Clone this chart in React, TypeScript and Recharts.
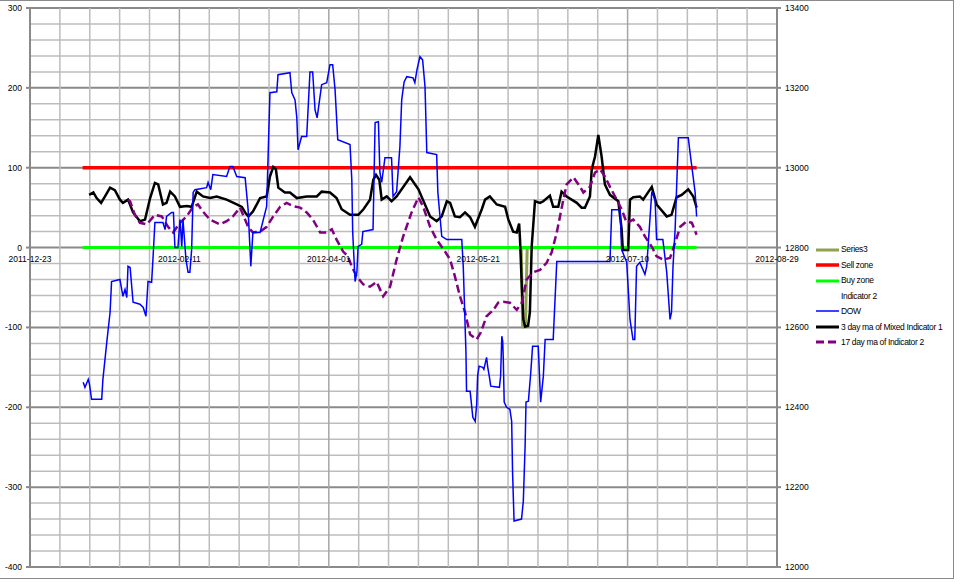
import React from 'react';
import { ComposedChart, Line, XAxis, YAxis, CartesianGrid, Legend } from 'recharts';

// ---------- data ----------
const xLabelDays = [0, 50, 100, 150, 200, 250];
const xLabels = ['2011-12-23', '2012-02-11', '2012-04-01', '2012-05-21', '2012-07-10', '2012-08-29'];
const xGridDays = [0, 10, 20, 30, 40, 50, 60, 70, 80, 90, 100, 110, 120, 130, 140, 150, 160, 170, 180, 190, 200, 210, 220, 230, 240, 250];
const leftTicks = [-400, -380, -360, -340, -320, -300, -280, -260, -240, -220, -200, -180, -160, -140, -120, -100, -80, -60, -40, -20, 0, 20, 40, 60, 80, 100, 120, 140, 160, 180, 200, 220, 240, 260, 280, 300];
const leftLabelTicks = [-400, -300, -200, -100, 0, 100, 200, 300];
const rightTicks = [12000, 12200, 12400, 12600, 12800, 13000, 13200, 13400];

const legendNames = ['Series3', 'Sell zone', 'Buy zone', 'Indicator 2', 'DOW', '3 day ma of Mixed Indicator 1', '17 day ma of Indicator 2'];

const series3Points: number[][] = [[164.4, 0], [164.9, -99], [165.8, -99], [166.4, 0]];
const sellZonePoints: number[][] = [[17.6, 100], [223.1, 100]];
const buyZonePoints: number[][] = [[17.6, 0], [223.1, 0]];

const dowPoints: number[][] = [
  [17.8, 12463], [18.4, 12450], [19.5, 12470], [19.9, 12458], [20.6, 12420], [24.0, 12420], [24.4, 12470], [25.7, 12563], [26.8, 12638], [27.3, 12715],
  [30.1, 12720], [31.1, 12678], [31.8, 12695], [32.4, 12675], [32.8, 12753], [33.5, 12750], [34.5, 12663], [36.8, 12658], [37.9, 12650], [38.8, 12628],
  [39.5, 12715], [40.7, 12713], [41.2, 12778], [41.8, 12863], [44.5, 12863], [45.2, 12845], [45.7, 12878], [47.4, 12888], [48.0, 12888], [48.5, 12800],
  [49.5, 12800], [50.2, 12870], [50.8, 12803], [51.2, 12870], [52.2, 12770], [52.9, 12738], [53.5, 12738], [54.1, 12795], [54.6, 12938], [55.2, 12945],
  [59.1, 12950], [59.6, 12963], [60.5, 12945], [61.2, 12983], [65.8, 12978], [66.9, 13003], [67.9, 13003], [69.2, 12978], [72.0, 12975], [73.0, 12895],
  [73.9, 12753], [74.6, 12838], [77.0, 12838], [79.2, 12903], [80.3, 13188], [82.6, 13190], [83.0, 13233], [87.0, 13238], [87.6, 13188], [88.7, 13170],
  [89.3, 13125], [89.7, 13045], [90.9, 13078], [92.6, 13078], [93.7, 13240], [94.6, 13240], [95.4, 13145], [96.1, 13125], [97.6, 13208], [99.3, 13213],
  [100.4, 13258], [101.3, 13258], [102.1, 13195], [103.0, 13070], [107.1, 13058], [107.7, 12970], [108.0, 12838], [108.8, 12715], [109.4, 12738], [109.8, 12803],
  [111.0, 12808], [111.4, 12840], [114.8, 12845], [115.5, 13113], [116.6, 13115], [117.1, 12988], [117.7, 12963], [118.8, 13025], [121.0, 13025], [121.5, 12928],
  [122.7, 12940], [123.8, 13053], [124.4, 13170], [125.2, 13215], [126.1, 13228], [128.2, 13225], [128.8, 13213], [129.5, 13245], [130.5, 13278], [131.4, 13270],
  [132.2, 13203], [132.8, 13038], [136.1, 13033], [136.5, 12938], [137.8, 12828], [139.5, 12820], [144.5, 12820], [145.0, 12753], [145.9, 12538], [146.1, 12440],
  [147.3, 12440], [148.2, 12375], [149.0, 12365], [149.5, 12408], [149.8, 12478], [150.3, 12503], [151.5, 12500], [151.9, 12495], [152.8, 12525], [153.2, 12500],
  [153.7, 12478], [154.2, 12453], [157.1, 12450], [157.5, 12478], [157.9, 12578], [158.2, 12565], [158.4, 12520], [158.7, 12413], [159.5, 12400], [160.6, 12395],
  [161.2, 12365], [161.5, 12238], [162.0, 12115], [164.5, 12120], [165.1, 12165], [165.7, 12303], [166.0, 12413], [166.8, 12415], [167.6, 12488], [168.2, 12553],
  [170.1, 12553], [170.9, 12413], [171.8, 12478], [172.4, 12570], [175.1, 12570], [176.3, 12765], [194.1, 12765], [194.7, 12895], [197.5, 12895], [198.0, 12795],
  [199.7, 12763], [200.8, 12620], [201.8, 12570], [202.4, 12570], [203.0, 12753], [204.1, 12763], [205.8, 12733], [206.4, 12753], [208.1, 12940], [209.2, 12920],
  [209.7, 12820], [211.8, 12820], [213.1, 12738], [214.2, 12620], [214.7, 12638], [215.2, 12753], [215.9, 12845], [217.0, 13075], [220.3, 13075], [220.9, 13038],
  [222.6, 12938], [223.1, 12878],
];

const mixedMa3Points: number[][] = [
  [19.8, 66], [21.2, 69], [22.3, 62], [23.8, 56], [25.1, 64], [26.8, 75], [28.4, 72], [30.1, 60], [31.1, 56], [32.8, 60],
  [34.5, 44], [36.8, 33], [38.5, 35], [40.2, 62], [41.8, 81], [42.9, 79], [44.5, 54], [45.7, 56], [46.9, 70], [48.5, 64],
  [50.2, 51], [52.4, 52], [54.1, 51], [55.8, 70], [57.9, 64], [60.2, 62], [62.5, 64], [65.8, 60], [69.2, 54], [70.9, 51],
  [72.0, 44], [73.1, 39], [74.6, 45], [77.0, 62], [79.2, 64], [80.3, 89], [81.4, 101], [82.3, 98], [83.1, 75], [85.3, 69],
  [87.0, 69], [89.3, 62], [92.6, 64], [96.0, 64], [97.6, 70], [100.4, 69], [102.6, 62], [104.3, 48], [107.1, 41], [109.9, 41],
  [111.6, 48], [113.8, 60], [114.9, 85], [115.8, 91], [116.9, 85], [117.7, 60], [119.4, 64], [121.0, 58], [122.7, 64], [127.2, 88],
  [130.0, 73], [133.9, 39], [136.1, 33], [137.8, 39], [139.5, 58], [140.6, 56], [142.2, 39], [143.9, 38], [145.6, 44], [147.3, 38],
  [148.9, 26], [151.2, 48], [152.3, 60], [153.9, 64], [156.2, 54], [159.0, 51], [160.1, 35], [161.7, 20], [162.9, 19], [163.7, 30],
  [164.0, 10], [164.6, -49], [165.1, -90], [165.7, -99], [166.7, -98], [167.3, -81], [167.9, 1], [169.0, 58], [170.7, 56], [171.8, 58],
  [174.0, 65], [175.1, 51], [176.8, 51], [177.9, 70], [179.6, 64], [183.0, 56], [184.6, 50], [185.7, 50], [187.4, 64], [188.0, 98],
  [189.1, 114], [190.2, 141], [191.3, 114], [192.4, 79], [194.1, 66], [196.9, 58], [198.0, 23], [198.4, -3], [200.2, -3], [200.8, 60],
  [201.9, 63], [204.1, 64], [205.2, 60], [208.1, 76], [209.7, 54], [213.1, 39], [214.7, 41], [216.4, 63], [218.1, 66], [220.3, 73],
  [222.0, 64], [223.1, 50],
];

const ind2Ma17Points: number[][] = [
  [32.8, 60], [33.5, 58], [35.1, 41], [36.8, 31], [39.1, 29], [41.8, 41], [44.1, 39], [46.2, 26], [47.9, 19], [50.2, 31],
  [52.4, 39], [54.6, 51], [56.2, 54], [57.9, 45], [60.2, 35], [63.6, 29], [65.8, 33], [67.9, 39], [70.3, 50], [73.1, 25],
  [74.6, 19], [77.0, 20], [79.2, 26], [81.4, 39], [83.7, 51], [85.9, 56], [88.0, 52], [90.4, 50], [92.6, 44], [94.7, 35],
  [97.1, 19], [99.3, 19], [101.0, 23], [102.6, 10], [104.8, -5], [106.4, -11], [107.7, -24], [109.3, -36], [111.5, -46], [113.8, -49],
  [116.0, -43], [118.2, -61], [120.5, -49], [122.7, -15], [124.9, 14], [127.7, 44], [130.0, 63], [131.6, 51], [133.9, 26], [136.1, 10],
  [138.9, -5], [140.6, -15], [142.2, -36], [143.9, -61], [145.6, -81], [147.3, -109], [149.5, -115], [150.9, -106], [152.8, -86], [155.1, -78],
  [156.7, -69], [158.4, -68], [160.6, -69], [162.9, -78], [164.6, -69], [166.2, -40], [168.4, -31], [170.7, -28], [172.9, -19], [174.6, -6],
  [176.3, 19], [178.5, 60], [179.6, 79], [181.9, 88], [184.1, 76], [185.2, 69], [187.4, 76], [189.1, 94], [190.8, 98], [192.4, 89],
  [194.1, 76], [195.8, 64], [198.0, 48], [199.7, 31], [201.9, 35], [204.1, 26], [205.8, 14], [208.1, 1], [209.7, -11], [211.9, -15],
  [214.2, -13], [215.9, 6], [217.6, 26], [219.8, 33], [221.5, 31], [223.1, 16],
];

// ---------- helpers ----------
const toRows = (pts: number[][]) => pts.map(([d, v]) => ({ d, v }));

const FONT = '"Liberation Sans", Arial, sans-serif';
const FS = 8.5;
const W = 960;
const H = 584;
const MARGIN = { top: 8, right: 143, bottom: 0, left: 0 };
const LEFT_W = 30;
const RIGHT_W = 40;
const XAXIS_H = 17;
const PLOT_H = H - MARGIN.top - MARGIN.bottom - XAXIS_H;
const Y_MIN = leftTicks[0];
const Y_MAX = leftTicks[leftTicks.length - 1];

const COLORS = {
  series3: '#8ea24f',
  sell: '#ff0000',
  buy: '#00ff00',
  dow: '#0000ff',
  ma3: '#000000',
  ma17: '#800080',
};

const LeftTick = (props: any) => {
  const { x, y, payload } = props;
  if (!leftLabelTicks.includes(payload.value)) return <g />;
  return (
    <g>
      <line x1={x - 4} x2={x} y1={y} y2={y} stroke="#8a8a8a" strokeWidth={2} />
      <text x={x - 8} y={y} dy={3} textAnchor="end" fontSize={FS} fontFamily={FONT} fill="#000">
        {payload.value}
      </text>
    </g>
  );
};

const RightTick = (props: any) => {
  const { x, y, payload } = props;
  return (
    <g>
      <line x1={x} x2={x + 4} y1={y} y2={y} stroke="#8a8a8a" strokeWidth={2} />
      <text x={x + 8} y={y} dy={3} textAnchor="start" fontSize={FS} fontFamily={FONT} fill="#000">
        {payload.value}
      </text>
    </g>
  );
};

const XTick = (props: any) => {
  const { x, y, payload } = props;
  const idx = xLabelDays.indexOf(payload.value);
  if (idx < 0) return <g />;
  // place labels just below the zero line (the category axis crosses at 0)
  const zeroY = y - (PLOT_H * (0 - Y_MIN)) / (Y_MAX - Y_MIN);
  return (
    <text x={x} y={zeroY} dy={14} textAnchor="middle" fontSize={FS} fontFamily={FONT} fill="#000">
      {xLabels[idx]}
    </text>
  );
};

const hLine = (p: any) => {
  const v = Y_MAX - ((p.y1 - p.y) / p.height) * (Y_MAX - Y_MIN);
  const major = Math.abs(v / 100 - Math.round(v / 100)) < 0.02;
  return (
    <line
      key={p.key}
      x1={p.x1}
      x2={p.x2}
      y1={p.y1}
      y2={p.y2}
      stroke={major ? '#8a8a8a' : '#bdbdbd'}
      strokeWidth={major ? 2 : 1.5}
    />
  );
};

const vLine = (p: any) => {
  const d = ((p.x1 - p.x) / p.width) * 250;
  const major = Math.abs(d / 50 - Math.round(d / 50)) < 0.02;
  return (
    <line
      key={p.key}
      x1={p.x1}
      x2={p.x2}
      y1={p.y1}
      y2={p.y2}
      stroke={major ? '#a6a6a6' : '#bdbdbd'}
      strokeWidth={1.5}
    />
  );
};

const legendStyles = [
  { color: COLORS.series3, width: 3, dash: undefined },
  { color: COLORS.sell, width: 3.5, dash: undefined },
  { color: COLORS.buy, width: 3, dash: undefined },
  { color: 'none', width: 0, dash: undefined },
  { color: COLORS.dow, width: 1.5, dash: undefined },
  { color: COLORS.ma3, width: 3, dash: undefined },
  { color: COLORS.ma17, width: 3, dash: '8 4' },
];

const LegendContent = () => (
  <div style={{ fontFamily: FONT, fontSize: FS, color: '#000', letterSpacing: -0.35 }}>
    {legendNames.map((name, i) => {
      const s = legendStyles[i];
      return (
        <div key={name} style={{ display: 'flex', alignItems: 'center', height: 15.45, whiteSpace: 'nowrap' }}>
          <svg width={23} height={8} style={{ display: 'block', marginRight: 2 }}>
            {s.color !== 'none' && (
              <line x1={0} x2={23} y1={4} y2={4} stroke={s.color} strokeWidth={s.width} strokeDasharray={s.dash} />
            )}
          </svg>
          <span style={{ lineHeight: 1 }}>{name}</span>
        </div>
      );
    })}
  </div>
);

export default function App() {
  return (
    <div style={{ position: 'absolute', left: 0, top: 0, width: W, height: H, background: '#fff' }}>
      <ComposedChart width={W} height={H} margin={MARGIN}>
        <CartesianGrid xAxisId="x" yAxisId="left" horizontal={hLine} vertical={vLine} />
        <XAxis
          xAxisId="x"
          dataKey="d"
          type="number"
          domain={[0, 250]}
          ticks={xGridDays}
          interval={0}
          height={XAXIS_H}
          tickSize={0}
          tickMargin={0}
          tickLine={false}
          axisLine={false}
          tick={<XTick />}
        />
        <YAxis
          yAxisId="left"
          type="number"
          domain={[Y_MIN, Y_MAX]}
          ticks={leftTicks}
          interval={0}
          width={LEFT_W}
          tickSize={0}
          tickMargin={0}
          tickLine={false}
          axisLine={{ stroke: '#8a8a8a', strokeWidth: 2 }}
          tick={<LeftTick />}
        />
        <YAxis
          yAxisId="right"
          orientation="right"
          type="number"
          domain={[rightTicks[0], rightTicks[rightTicks.length - 1]]}
          ticks={rightTicks}
          interval={0}
          width={RIGHT_W}
          tickSize={0}
          tickMargin={0}
          tickLine={false}
          axisLine={{ stroke: '#8a8a8a', strokeWidth: 2 }}
          tick={<RightTick />}
        />
        <Legend
          layout="horizontal"
          align="center"
          verticalAlign="middle"
          content={<LegendContent />}
          wrapperStyle={{ left: 816, top: 242, width: 140, height: 112 }}
        />
        <Line xAxisId="x" yAxisId="left" data={toRows(series3Points)} dataKey="v" name="Series3" stroke={COLORS.series3} strokeWidth={3} dot={false} isAnimationActive={false} />
        <Line xAxisId="x" yAxisId="left" data={toRows(sellZonePoints)} dataKey="v" name="Sell zone" stroke={COLORS.sell} strokeWidth={3.5} dot={false} isAnimationActive={false} />
        <Line xAxisId="x" yAxisId="left" data={toRows(buyZonePoints)} dataKey="v" name="Buy zone" stroke={COLORS.buy} strokeWidth={3} dot={false} isAnimationActive={false} />
        <Line xAxisId="x" yAxisId="left" data={toRows(mixedMa3Points)} dataKey="v" name="3 day ma of Mixed Indicator 1" stroke={COLORS.ma3} strokeWidth={2.5} dot={false} isAnimationActive={false} />
        <Line xAxisId="x" yAxisId="left" data={toRows(ind2Ma17Points)} dataKey="v" name="17 day ma of Indicator 2" stroke={COLORS.ma17} strokeWidth={2.5} strokeDasharray="8 4" dot={false} isAnimationActive={false} />
        <Line xAxisId="x" yAxisId="right" data={toRows(dowPoints)} dataKey="v" name="DOW" stroke={COLORS.dow} strokeWidth={1.5} dot={false} isAnimationActive={false} />
      </ComposedChart>
      <div
        style={{
          position: 'absolute',
          left: 0,
          top: 0,
          width: 953,
          height: 577,
          borderTop: '1px solid #8a8a8a',
          borderRight: '1px solid #8a8a8a',
          borderBottom: '1px solid #8a8a8a',
          pointerEvents: 'none',
        }}
      />
    </div>
  );
}
